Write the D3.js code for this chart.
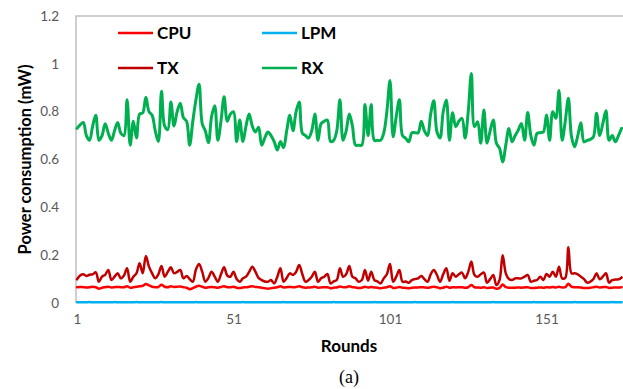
<!DOCTYPE html>
<html>
<head>
<meta charset="utf-8">
<script src="https://cdn.jsdelivr.net/npm/d3@7"></script>
<style>
  html, body { margin: 0; padding: 0; background: #fff; }
  svg { display: block; }
</style>
</head>
<body>
<svg id="chart" width="623" height="389"></svg>
<script>
// Power consumption per round for each component (mW)
const roundCount = 175;
const xTickValues = [1, 51, 101, 151];
const yTickValues = [0, 0.2, 0.4, 0.6, 0.8, 1, 1.2];

const cpu = [
  0.066,0.067,0.066,0.065,0.066,0.068,0.066,0.060,0.064,0.066,
  0.068,0.065,0.066,0.067,0.066,0.066,0.070,0.064,0.066,0.068,
  0.070,0.072,0.079,0.074,0.068,0.066,0.067,0.076,0.068,0.066,
  0.070,0.067,0.068,0.069,0.066,0.064,0.058,0.062,0.068,0.072,
  0.068,0.064,0.066,0.067,0.066,0.064,0.067,0.070,0.066,0.066,
  0.068,0.064,0.063,0.065,0.066,0.068,0.070,0.067,0.066,0.064,
  0.062,0.060,0.062,0.064,0.066,0.070,0.065,0.066,0.067,0.066,
  0.067,0.070,0.066,0.064,0.065,0.066,0.068,0.064,0.065,0.066,
  0.066,0.062,0.064,0.065,0.069,0.066,0.066,0.070,0.066,0.065,
  0.063,0.064,0.068,0.065,0.067,0.065,0.064,0.062,0.064,0.066,
  0.070,0.063,0.064,0.067,0.064,0.063,0.062,0.064,0.065,0.065,
  0.066,0.065,0.064,0.066,0.068,0.066,0.062,0.064,0.068,0.064,
  0.066,0.065,0.066,0.066,0.064,0.066,0.075,0.066,0.065,0.064,
  0.066,0.063,0.064,0.065,0.060,0.063,0.077,0.066,0.064,0.064,
  0.064,0.065,0.064,0.065,0.066,0.063,0.063,0.064,0.065,0.064,
  0.066,0.065,0.067,0.065,0.068,0.065,0.066,0.080,0.068,0.066,
  0.066,0.065,0.063,0.063,0.064,0.066,0.068,0.065,0.066,0.067,
  0.063,0.064,0.065,0.065,0.066
];

const lpm = [
  0.003,0.003,0.003,0.003,0.004,0.003,0.003,0.003,0.003,0.003,
  0.003,0.003,0.004,0.003,0.003,0.003,0.003,0.003,0.003,0.004,
  0.003,0.003,0.003,0.003,0.003,0.003,0.003,0.004,0.003,0.003,
  0.003,0.003,0.003,0.003,0.003,0.003,0.003,0.003,0.004,0.003,
  0.003,0.003,0.003,0.003,0.003,0.003,0.003,0.003,0.003,0.003,
  0.003,0.003,0.003,0.004,0.003,0.003,0.003,0.003,0.003,0.003,
  0.003,0.003,0.003,0.003,0.003,0.003,0.004,0.003,0.003,0.003,
  0.003,0.003,0.003,0.003,0.003,0.003,0.003,0.003,0.003,0.003,
  0.003,0.003,0.004,0.003,0.003,0.003,0.003,0.003,0.003,0.003,
  0.003,0.003,0.003,0.003,0.003,0.004,0.003,0.003,0.003,0.003,
  0.003,0.003,0.003,0.003,0.003,0.003,0.003,0.003,0.004,0.003,
  0.003,0.003,0.003,0.003,0.003,0.003,0.003,0.003,0.003,0.003,
  0.004,0.003,0.003,0.003,0.003,0.003,0.003,0.003,0.003,0.003,
  0.003,0.003,0.003,0.004,0.003,0.003,0.003,0.003,0.003,0.003,
  0.003,0.003,0.003,0.003,0.003,0.003,0.004,0.003,0.003,0.003,
  0.003,0.003,0.003,0.003,0.003,0.003,0.003,0.003,0.003,0.004,
  0.003,0.003,0.003,0.003,0.003,0.003,0.003,0.003,0.003,0.003,
  0.003,0.004,0.003,0.003,0.003
];

const tx = [
  0.099,0.115,0.120,0.113,0.118,0.120,0.128,0.089,0.110,0.118,
  0.138,0.096,0.110,0.124,0.103,0.115,0.145,0.089,0.110,0.124,
  0.166,0.124,0.196,0.152,0.124,0.103,0.120,0.155,0.110,0.130,
  0.149,0.124,0.130,0.138,0.103,0.113,0.100,0.089,0.140,0.163,
  0.131,0.089,0.105,0.131,0.110,0.089,0.120,0.149,0.115,0.110,
  0.131,0.100,0.089,0.103,0.110,0.130,0.152,0.131,0.105,0.096,
  0.090,0.089,0.096,0.082,0.110,0.145,0.089,0.105,0.124,0.117,
  0.130,0.159,0.120,0.089,0.096,0.110,0.131,0.089,0.103,0.110,
  0.121,0.082,0.090,0.096,0.145,0.110,0.120,0.155,0.110,0.103,
  0.089,0.096,0.138,0.093,0.131,0.096,0.090,0.082,0.103,0.120,
  0.163,0.089,0.110,0.138,0.089,0.090,0.085,0.096,0.100,0.103,
  0.113,0.100,0.089,0.120,0.138,0.117,0.089,0.120,0.145,0.093,
  0.124,0.110,0.120,0.127,0.103,0.130,0.173,0.117,0.110,0.120,
  0.127,0.085,0.100,0.117,0.075,0.096,0.200,0.124,0.100,0.096,
  0.103,0.103,0.103,0.110,0.117,0.089,0.093,0.096,0.110,0.096,
  0.121,0.110,0.131,0.110,0.152,0.103,0.105,0.233,0.124,0.124,
  0.120,0.110,0.100,0.085,0.089,0.100,0.124,0.099,0.110,0.124,
  0.085,0.096,0.098,0.099,0.107
];

const rx = [
  0.730,0.745,0.755,0.700,0.680,0.740,0.785,0.680,0.700,0.750,
  0.710,0.680,0.720,0.755,0.710,0.700,0.850,0.660,0.760,0.690,
  0.790,0.795,0.860,0.800,0.785,0.720,0.675,0.885,0.740,0.725,
  0.840,0.740,0.800,0.835,0.775,0.760,0.660,0.760,0.850,0.915,
  0.750,0.720,0.670,0.780,0.825,0.680,0.760,0.862,0.760,0.790,
  0.800,0.675,0.765,0.675,0.740,0.790,0.740,0.715,0.735,0.660,
  0.690,0.715,0.700,0.675,0.640,0.675,0.650,0.720,0.785,0.720,
  0.800,0.840,0.710,0.700,0.690,0.720,0.790,0.680,0.750,0.760,
  0.765,0.675,0.680,0.720,0.850,0.680,0.720,0.790,0.740,0.660,
  0.660,0.660,0.830,0.700,0.830,0.680,0.680,0.680,0.710,0.800,
  0.930,0.695,0.780,0.850,0.700,0.689,0.674,0.712,0.712,0.712,
  0.760,0.720,0.700,0.790,0.846,0.716,0.690,0.800,0.849,0.680,
  0.796,0.737,0.760,0.772,0.690,0.800,0.960,0.737,0.758,0.668,
  0.807,0.668,0.720,0.765,0.668,0.647,0.590,0.660,0.730,0.674,
  0.700,0.723,0.751,0.680,0.796,0.700,0.660,0.709,0.712,0.715,
  0.786,0.680,0.800,0.772,0.888,0.680,0.760,0.856,0.695,0.653,
  0.700,0.754,0.674,0.680,0.684,0.695,0.793,0.700,0.750,0.804,
  0.680,0.700,0.674,0.700,0.730
];

const seriesNames = ["CPU", "LPM", "TX", "RX"];
const seriesColors = ["#ff0000", "#00b0f0", "#c00000", "#00b050"];
const seriesValues = [cpu, lpm, tx, rx];

const svg = d3.select("#chart");

// Plot area bounds
const plotLeft = 76, plotTop = 16, plotBottom = 303, plotRight = 623;

const x = d3.scaleLinear().domain([1, roundCount]).range([plotLeft + 1, 621.6]);
const y = d3.scaleLinear().domain([0, 1.2]).range([plotBottom, plotTop]);

// Plot frame (top and left edges)
svg.append("path")
  .attr("d", `M${plotLeft},${plotBottom}V${plotTop}H${plotRight}`)
  .attr("fill", "none")
  .attr("stroke", "#bfbfbf")
  .attr("stroke-width", 1.5);

// Y axis labels
const yAxis = d3.axisLeft(y).tickValues(yTickValues).tickSize(0).tickPadding(17)
  .tickFormat(d => d3.format("~g")(d));
const gy = svg.append("g").attr("transform", `translate(${plotLeft},0)`).call(yAxis);
gy.select(".domain").remove();
gy.selectAll("text")
  .attr("font-family", "Lato, 'Open Sans', sans-serif")
  .attr("font-size", 13.5)
  .attr("fill", "#595959");

// X axis labels
const xAxis = d3.axisBottom(x).tickValues(xTickValues).tickSize(0).tickPadding(11)
  .tickFormat(d3.format("d"));
const gx = svg.append("g").attr("transform", `translate(0,${plotBottom})`).call(xAxis);
gx.select(".domain").remove();
gx.selectAll("text")
  .attr("font-family", "Lato, 'Open Sans', sans-serif")
  .attr("font-size", 13.5)
  .attr("fill", "#595959");

// Series lines
const line = d3.line()
  .x((d, i) => x(i + 1))
  .y(d => y(d))
  .curve(d3.curveCatmullRom.alpha(0.5));

const drawOrder = [3, 2, 0, 1];
drawOrder.forEach(k => {
  svg.append("path")
    .datum(seriesValues[k])
    .attr("d", line)
    .attr("fill", "none")
    .attr("stroke", seriesColors[k])
    .attr("stroke-width", k === 3 ? 3 : 2.5)
    .attr("stroke-linejoin", "round")
    .attr("stroke-linecap", "round");
});

// Legend
const legendPos = [
  { lx: 118, ly: 33 }, { lx: 262, ly: 33 },
  { lx: 118, ly: 68 }, { lx: 262, ly: 68 }
];
seriesNames.forEach((name, k) => {
  const p = legendPos[k];
  svg.append("line")
    .attr("x1", p.lx).attr("x2", p.lx + 35)
    .attr("y1", p.ly).attr("y2", p.ly)
    .attr("stroke", seriesColors[k])
    .attr("stroke-width", 2.5);
  svg.append("text")
    .attr("x", p.lx + 39).attr("y", p.ly)
    .attr("dy", "0.36em")
    .attr("font-family", "Lato, 'Open Sans', sans-serif")
    .attr("font-weight", "bold")
    .attr("font-size", 17)
    .attr("fill", "#000")
    .text(name);
});

// Axis titles
svg.append("text")
  .attr("transform", `translate(25,${(plotTop + plotBottom) / 2}) rotate(-90)`)
  .attr("text-anchor", "middle")
  .attr("dy", "0.36em")
  .attr("font-family", "Lato, 'Open Sans', sans-serif")
  .attr("font-weight", "bold")
  .attr("font-size", 16.5)
  .attr("fill", "#000")
  .text("Power consumption (mW)");

svg.append("text")
  .attr("x", 349).attr("y", 346)
  .attr("text-anchor", "middle")
  .attr("dy", "0.36em")
  .attr("font-family", "Lato, 'Open Sans', sans-serif")
  .attr("font-weight", "bold")
  .attr("font-size", 17)
  .attr("fill", "#000")
  .text("Rounds");

// Sub-figure caption
svg.append("text")
  .attr("x", 349).attr("y", 377)
  .attr("text-anchor", "middle")
  .attr("dy", "0.36em")
  .attr("font-family", "'Liberation Serif', 'DejaVu Serif', serif")
  .attr("font-size", 18)
  .attr("fill", "#000")
  .text("(a)");
</script>
</body>
</html>
